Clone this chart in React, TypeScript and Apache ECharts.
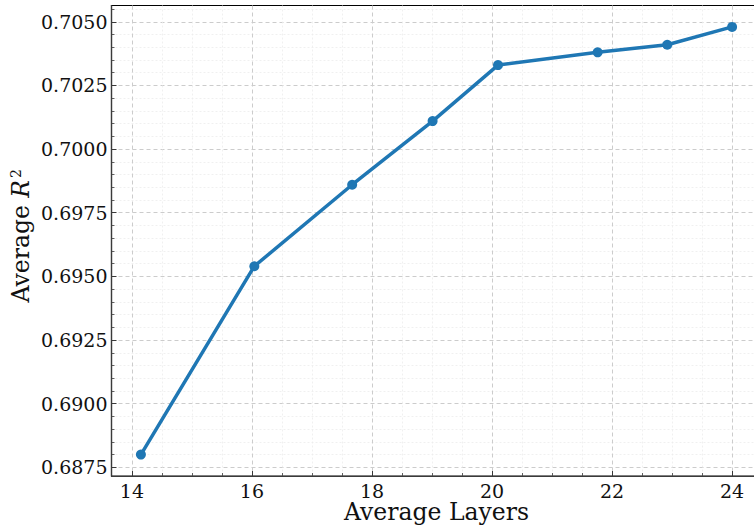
import React, { useEffect, useRef } from "react";
import * as echarts from "echarts";

const layers = [14.15, 16.04, 17.67, 19.01, 20.1, 21.76, 22.92, 24.0];
const r2 = [0.688, 0.6954, 0.6986, 0.7011, 0.7033, 0.7038, 0.7041, 0.7048];

const xMajorTicks = [14, 16, 18, 20, 22, 24];
const xMinorTicks = [14.5, 15, 15.5, 16.5, 17, 17.5, 18.5, 19, 19.5, 20.5, 21, 21.5, 22.5, 23, 23.5];
const yMajorTicks = [0.6875, 0.69, 0.6925, 0.695, 0.6975, 0.7, 0.7025, 0.705];
const yMinorTicks = [
  0.688, 0.6885, 0.689, 0.6895, 0.6905, 0.691, 0.6915, 0.692, 0.693, 0.6935, 0.694, 0.6945,
  0.6955, 0.696, 0.6965, 0.697, 0.698, 0.6985, 0.699, 0.6995, 0.7005, 0.701, 0.7015, 0.702,
  0.703, 0.7035, 0.704, 0.7045, 0.7055,
];

const X_MIN = 13.66;
const X_MAX = 24.49;
const Y_MIN = 0.68716;
const Y_MAX = 0.70564;

const FONT = "DejaVu Serif";
const SPINE = "#3a3a3a";

export default function App() {
  const ref = useRef<HTMLDivElement>(null);
  useEffect(() => {
    if (!ref.current) return;
    const chart = echarts.init(ref.current, undefined, { renderer: "svg" });
    const data = layers.map((x, i) => [x, r2[i]]);
    chart.setOption({
      animation: false,
      grid: {
        left: 111.5,
        right: -7.5,
        top: 5.5,
        bottom: 51,
        outerBoundsMode: "none",
        containLabel: false,
        show: true,
        borderColor: "#000",
        borderWidth: 1.2,
        backgroundColor: "transparent",
      },
      xAxis: [
        {
          type: "value",
          min: X_MIN,
          max: X_MAX,
          position: "bottom",
          name: "Average Layers",
          nameLocation: "middle",
          nameGap: 26,
          nameMoveOverlap: false,
          nameTextStyle: { fontFamily: FONT, fontSize: 23.5, lineHeight: 20, color: "#111" },
          axisLine: { show: true, lineStyle: { color: SPINE, width: 1.2 } },
          axisTick: {
            show: true,
            inside: true,
            length: 5,
            customValues: xMajorTicks,
            lineStyle: { color: SPINE, width: 1 },
          },
          axisLabel: {
            customValues: xMajorTicks,
            fontFamily: FONT,
            fontSize: 19,
            lineHeight: 19,
            color: "#111",
            margin: 5,
            formatter: (v: number) => String(Math.round(v)),
          },
          splitLine: {
            show: true,
            lineStyle: { color: "#cccccc", type: [4, 3], width: 1 },
          },
        },
        {
          type: "value",
          min: X_MIN,
          max: X_MAX,
          position: "bottom",
          axisLine: { show: false },
          axisTick: {
            show: true,
            inside: true,
            length: 3,
            customValues: xMinorTicks,
            lineStyle: { color: SPINE, width: 0.8 },
          },
          axisLabel: { show: false },
          splitLine: {
            show: true,
            lineStyle: { color: "#ececec", type: [2, 2], width: 0.8 },
          },
        },
      ],
      yAxis: [
        {
          type: "value",
          min: Y_MIN,
          max: Y_MAX,
          position: "left",
          name: "{a|Average }{i|R}{s|2}",
          nameLocation: "middle",
          nameGap: 79,
          nameMoveOverlap: false,
          nameTextStyle: {
            fontFamily: FONT,
            fontSize: 23.5,
            color: "#111",
            padding: [0, 0, 0, 10],
            rich: {
              a: { fontFamily: FONT, fontSize: 23.5, color: "#111" },
              i: { fontFamily: FONT, fontSize: 23.5, fontStyle: "italic", color: "#111" },
              s: { fontFamily: FONT, fontSize: 14, color: "#111", verticalAlign: "top", padding: [0, 0, 6, 2] },
            },
          },
          axisLine: { show: true, lineStyle: { color: SPINE, width: 1.2 } },
          axisTick: {
            show: true,
            inside: true,
            length: 5,
            customValues: yMajorTicks,
            lineStyle: { color: SPINE, width: 1 },
          },
          axisLabel: {
            customValues: yMajorTicks,
            fontFamily: FONT,
            fontSize: 19,
            color: "#111",
            margin: 4,
            formatter: (v: number) => v.toFixed(4),
          },
          splitLine: {
            show: true,
            lineStyle: { color: "#cccccc", type: [4, 3], width: 1 },
          },
        },
        {
          type: "value",
          min: Y_MIN,
          max: Y_MAX,
          position: "left",
          axisLine: { show: false },
          axisTick: {
            show: true,
            inside: true,
            length: 3,
            customValues: yMinorTicks,
            lineStyle: { color: SPINE, width: 0.8 },
          },
          axisLabel: { show: false },
          splitLine: {
            show: true,
            lineStyle: { color: "#ececec", type: [2, 2], width: 0.8 },
          },
        },
      ],
      series: [
        {
          type: "line",
          xAxisIndex: 0,
          yAxisIndex: 0,
          data,
          lineStyle: { color: "#1f77b4", width: 3.5 },
          itemStyle: { color: "#1f77b4" },
          symbol: "circle",
          symbolSize: 10,
          showSymbol: true,
          z: 5,
        },
      ],
    });
    return () => chart.dispose();
  }, []);
  return <div ref={ref} style={{ width: 754, height: 527, position: "absolute", left: 0, top: 0 }} />;
}
